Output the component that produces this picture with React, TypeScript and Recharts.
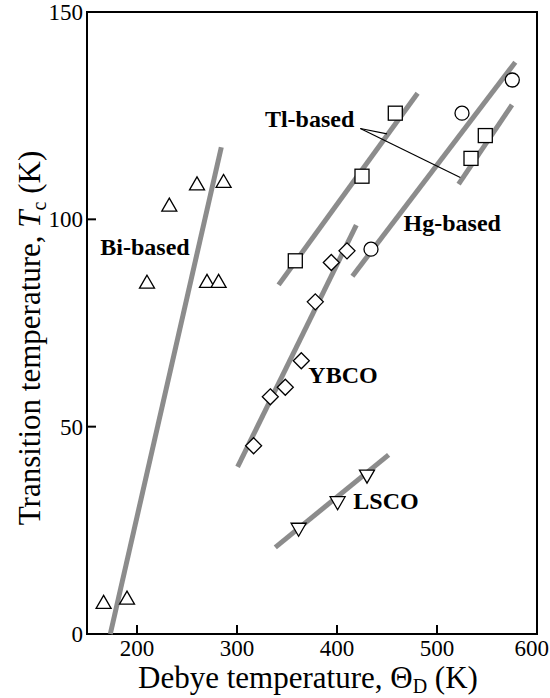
import {
  ComposedChart,
  Scatter,
  XAxis,
  YAxis,
  ReferenceLine,
  ReferenceArea,
  ReferenceDot,
  Label,
} from "recharts";

const FONT = '"Liberation Serif", "DejaVu Serif", serif';
const GRAY = "#8c8c8c";

const xTicks = [200, 300, 400, 500, 600];
const yTicks = [0, 50, 100, 150];

// measured points (Debye temp, Tc)
const biBased = [
  { x: 166.6, y: 7.4 },
  { x: 190, y: 8.4 },
  { x: 210, y: 84.6 },
  { x: 232.3, y: 103.2 },
  { x: 260, y: 108.3 },
  { x: 270, y: 84.8 },
  { x: 281.6, y: 84.8 },
  { x: 286.6, y: 108.9 },
];
const tlBased = [
  { x: 358.3, y: 90.0 },
  { x: 425, y: 110.4 },
  { x: 458.3, y: 125.6 },
  { x: 534, y: 114.7 },
  { x: 548.3, y: 120.2 },
];
const hgBased = [
  { x: 434, y: 92.8 },
  { x: 525, y: 125.6 },
  { x: 575.3, y: 133.6 },
];
const ybco = [
  { x: 316.6, y: 45.4 },
  { x: 333.3, y: 57.2 },
  { x: 348.3, y: 59.5 },
  { x: 364.3, y: 65.9 },
  { x: 378.3, y: 80.1 },
  { x: 394.3, y: 89.6 },
  { x: 410, y: 92.4 },
];
const lsco = [
  { x: 361.6, y: 25.5 },
  { x: 400.6, y: 31.9 },
  { x: 430, y: 38.3 },
];

// gray trend lines
const biFit = [{ x: 173.3, y: 0 }, { x: 284.3, y: 117.4 }];
const tlFitA = [{ x: 341.6, y: 84.2 }, { x: 480.6, y: 130.4 }];
const tlFitB = [{ x: 521.6, y: 108.5 }, { x: 575, y: 127.6 }];
const hgFit = [{ x: 415.4, y: 86.3 }, { x: 578.3, y: 137.9 }];
const ybcoFit = [{ x: 300.6, y: 40.3 }, { x: 419.3, y: 98.6 }];
const lscoFit = [{ x: 338.3, y: 20.9 }, { x: 451.6, y: 43.2 }];

// leader lines from the Tl-based label
const tlLeaderA = [{ x: 423.3, y: 121.9 }, { x: 450, y: 120.6 }];
const tlLeaderB = [{ x: 423.3, y: 121.9 }, { x: 523.3, y: 110.1 }];

const labels = [
  { text: "Bi-based", x: 163.3, y: 91.4, anchor: "start" },
  { text: "Tl-based", x: 417.3, y: 122.3, anchor: "end" },
  { text: "Hg-based", x: 466.6, y: 97.2, anchor: "start" },
  { text: "YBCO", x: 371.3, y: 60.5, anchor: "start" },
  { text: "LSCO", x: 416.3, y: 30.1, anchor: "start" },
];

const mark = { fill: "#fff", stroke: "#000", strokeWidth: 1.3 };

const TriUp = ({ cx, cy }: any) => (
  <polygon points={`${cx},${cy - 8} ${cx - 7.5},${cy + 5} ${cx + 7.5},${cy + 5}`} {...mark} />
);
const TriDown = ({ cx, cy }: any) => (
  <polygon points={`${cx},${cy + 8} ${cx - 7.5},${cy - 5} ${cx + 7.5},${cy - 5}`} {...mark} />
);
const Square = ({ cx, cy }: any) => (
  <rect x={cx - 7} y={cy - 7} width={14} height={14} {...mark} />
);
const Diamond = ({ cx, cy }: any) => (
  <polygon points={`${cx},${cy - 8} ${cx + 8},${cy} ${cx},${cy + 8} ${cx - 8},${cy}`} {...mark} />
);
const Circle = ({ cx, cy }: any) => <circle cx={cx} cy={cy} r={7} {...mark} />;

const XTick = ({ x, y, payload }: any) => {
  // last label sits flush against the right edge of the figure
  const last = payload.value === xTicks[xTicks.length - 1];
  return (
    <g>
      <line x1={x} y1={y} x2={x} y2={y - 9} stroke="#000" strokeWidth={2} />
      <text
        x={last ? x + 12 : x}
        y={y + 22}
        textAnchor={last ? "end" : "middle"}
        fontSize={23}
        fontFamily={FONT}
        fill="#000"
      >
        {payload.value}
      </text>
    </g>
  );
};

const YTick = ({ x, y, payload }: any) => (
  <g>
    <line x1={x} y1={y} x2={x + 9} y2={y} stroke="#000" strokeWidth={2} />
    <text x={x - 4} y={y} dy="0.35em" textAnchor="end" fontSize={23} fontFamily={FONT} fill="#000">
      {payload.value}
    </text>
  </g>
);

const TextMark = (text: string, anchor: string) => (props: any) => (
  <text
    x={props.cx}
    y={props.cy}
    textAnchor={anchor as any}
    fontSize={24}
    fontWeight="bold"
    fontFamily={FONT}
    fill="#000"
  >
    {text}
  </text>
);

export default function App() {
  return (
    <div style={{ position: "absolute", left: 0, top: 0, background: "#fff" }}>
      <ComposedChart width={550} height={698} margin={{ top: 12, right: 13, bottom: 4, left: 27 }}>
        <XAxis
          type="number"
          dataKey="x"
          domain={[150, 600]}
          ticks={xTicks}
          interval={0}
          tick={<XTick />}
          tickLine={false}
          tickSize={0}
          tickMargin={0}
          axisLine={false}
          height={60}
          allowDataOverflow
        >
          <Label
            content={({ viewBox }: any) => (
              <text
                x={viewBox.x + viewBox.width / 2 - 4}
                y={viewBox.y + 54}
                textAnchor="middle"
                fontSize={31}
                fontFamily={FONT}
                fill="#000"
              >
                Debye temperature, Θ
                <tspan fontSize={20} dy={5}>D</tspan>
                <tspan dy={-5}> (K)</tspan>
              </text>
            )}
          />
        </XAxis>
        <YAxis
          type="number"
          dataKey="y"
          domain={[0, 150]}
          ticks={yTicks}
          interval={0}
          tick={<YTick />}
          tickLine={false}
          tickSize={0}
          tickMargin={0}
          axisLine={false}
          width={60}
          allowDataOverflow
        >
          <Label
            content={({ viewBox }: any) => {
              const cx = 40;
              const cy = viewBox.y + viewBox.height / 2 + 15;
              return (
                <text
                  x={cx}
                  y={cy}
                  transform={`rotate(-90 ${cx} ${cy})`}
                  textAnchor="middle"
                  fontSize={31}
                  fontFamily={FONT}
                  fill="#000"
                >
                  Transition temperature,{" "}
                  <tspan fontStyle="italic">T</tspan>
                  <tspan fontSize={20} dy={6}>c</tspan>
                  <tspan dy={-6}> (K)</tspan>
                </text>
              );
            }}
          />
        </YAxis>

        <ReferenceArea x1={150} x2={600} y1={0} y2={150} fill="none" stroke="#000" strokeWidth={2} />

        <ReferenceLine segment={biFit} stroke={GRAY} strokeWidth={5} />
        <ReferenceLine segment={tlFitA} stroke={GRAY} strokeWidth={5} />
        <ReferenceLine segment={tlFitB} stroke={GRAY} strokeWidth={5} />
        <ReferenceLine segment={hgFit} stroke={GRAY} strokeWidth={5} />
        <ReferenceLine segment={ybcoFit} stroke={GRAY} strokeWidth={5} />
        <ReferenceLine segment={lscoFit} stroke={GRAY} strokeWidth={5} />
        <ReferenceLine segment={tlLeaderA} stroke="#000" strokeWidth={1.2} />
        <ReferenceLine segment={tlLeaderB} stroke="#000" strokeWidth={1.2} />

        <Scatter data={biBased} shape={TriUp} isAnimationActive={false} />
        <Scatter data={tlBased} shape={Square} isAnimationActive={false} />
        <Scatter data={hgBased} shape={Circle} isAnimationActive={false} />
        <Scatter data={ybco} shape={Diamond} isAnimationActive={false} />
        <Scatter data={lsco} shape={TriDown} isAnimationActive={false} />

        {labels.map((l) => (
          <ReferenceDot
            key={l.text}
            x={l.x}
            y={l.y}
            r={0}
            shape={TextMark(l.text, l.anchor)}
          />
        ))}
      </ComposedChart>
    </div>
  );
}
